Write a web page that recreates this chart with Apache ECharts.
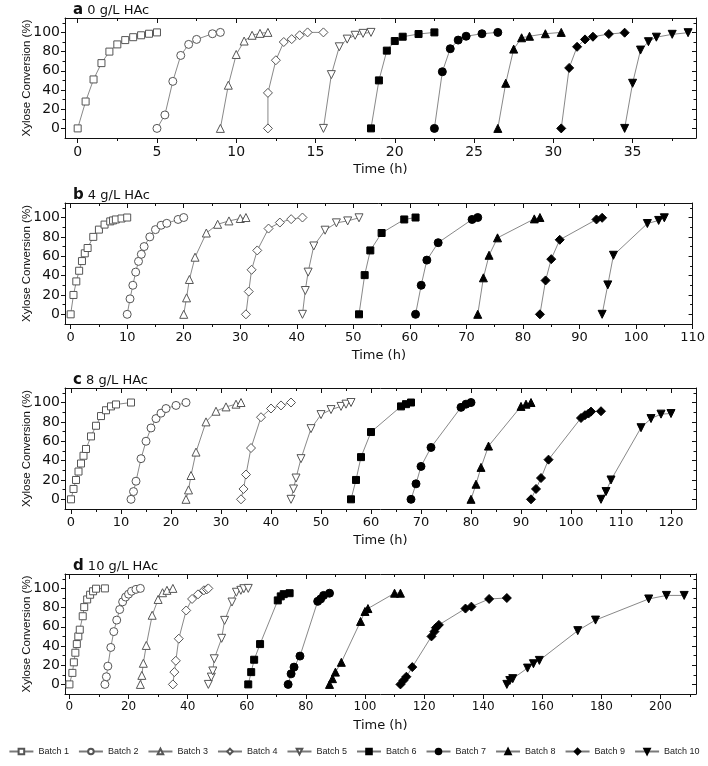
<!DOCTYPE html>
<html><head><meta charset="utf-8">
<script src="https://cdn.jsdelivr.net/npm/echarts@6/dist/echarts.min.js"></script>
<style>html,body{margin:0;padding:0;background:#fff}#c{width:708px;height:766px}</style>
</head><body><div id="c"></div>
<script>
// ---------- DATA ----------
const batchNames = ['Batch 1','Batch 2','Batch 3','Batch 4','Batch 5','Batch 6','Batch 7','Batch 8','Batch 9','Batch 10'];
const panelLetters = ['a','b','c','d'];
const panelLabels = ['0 g/L HAc','4 g/L HAc','8 g/L HAc','10 g/L HAc'];
const yTicks = [0,20,40,60,80,100];
const xTicksA = [0,5,10,15,20,25,30,35];
const xTicksB = [0,10,20,30,40,50,60,70,80,90,100,110];
const xTicksC = [0,10,20,30,40,50,60,70,80,90,100,110,120];
const xTicksD = [0,20,40,60,80,100,120,140,160,180,200];

// Panel a (0 g/L HAc): time (h) and xylose conversion (%) per batch
const timeA = [
  [0,0.5,1,1.5,2,2.5,3,3.5,4,4.5,5],
  [5,5.5,6,6.5,7,7.5,8.5,9],
  [9,9.5,10,10.5,11,11.5,12],
  [12,12,12.5,13,13.5,14,14.5,15.5],
  [15.5,16,16.5,17,17.5,18,18.5],
  [18.5,19,19.5,20,20.5,21.5,22.5],
  [22.5,23,23.5,24,24.5,25.5,26.5],
  [26.5,27,27.5,28,28.5,29.5,30.5],
  [30.5,31,31.5,32,32.5,33.5,34.5],
  [34.5,35,35.5,36,36.5,37.5,38.5]
];
const convA = [
  [0,28,51,68,80,87.5,92,95,97,98.6,100],
  [0,14,49,76,87.5,92.7,98.6,100],
  [0,45,77,91,97,99,100],
  [0,37,71,90,93,97,100,100],
  [0,56,85,93,97,99,100],
  [0,50,81,91,95.5,98.3,100],
  [0,59,83,92,96,98.6,100],
  [0,47,82.6,94.4,96,98.6,100],
  [0,63,85,92.7,95.5,98.3,99.7],
  [0,47,81.6,90.3,95,98,99.7]
];
// Panel b (4 g/L HAc)
const timeB = [
  [0,0.5,1,1.5,2,2.5,3,4,5,6,7,7.5,8,9,10],
  [10,10.5,11,11.5,12,12.5,13,14,15,16,17,19,20],
  [20,20.5,21,22,24,26,28,30,31],
  [31,31.5,32,33,35,37,39,41],
  [41,41.5,42,43,45,47,49,51],
  [51,52,53,55,59,61],
  [61,62,63,65,71,72],
  [72,73,74,75.5,82,83],
  [83,84,85,86.5,93,94],
  [94,95,96,102,104,105]
];
const convB = [
  [0,20,34,45,55,63,68.5,80,87.5,92.7,96,97,98,99,100],
  [0,16,30,43.6,54.7,62,70,80,87.5,92,94,98,100],
  [0,17,36,59,84,93,96.5,99,100],
  [0,23.5,46,66,88.6,94.8,98.3,100],
  [0,24.6,43.6,70.6,86.9,94.5,96.5,99.7],
  [0,40.5,66,84,98,100],
  [0,30,56,74,98,100],
  [0,37.7,61,79,98.6,100],
  [0,35,57,77,98,99.7],
  [0,30.4,61,93.8,97,99.7]
];
// Panel c (8 g/L HAc)
const timeC = [
  [0,0.5,1,1.5,2,2.5,3,4,5,6,7,8,9,12],
  [12,12.5,13,14,15,16,17,18,19,21,23],
  [23,23.5,24,25,27,29,31,33,34],
  [34,34.5,35,36,38,40,42,44],
  [44,44.5,45,46,48,50,52,54,55,56],
  [56,57,58,60,66,67,68],
  [68,69,70,72,78,79,80],
  [80,81,82,83.5,90,91,92],
  [92,93,94,95.5,102,102.8,103.5,104,106],
  [106,107,108,114,116,118,120]
];
const convC = [
  [0,10.7,20,28.7,37,45,52,65,76,86,92,96,98,100],
  [0,8,18.7,42,60,73.7,83.4,89,93.8,97,100],
  [0,9.7,24.6,48.8,80,91,95.5,98.3,100],
  [0,10.7,25.6,53,84.8,93.8,97,100],
  [0,10.7,22,42,73,87.5,92.7,96,98.3,100],
  [0,20,43.6,69.5,96,98.3,100],
  [0,16,34,53.6,95,98.3,100],
  [0,15.6,33,55,96,98.3,100],
  [0,10.7,22,41,84,86.9,88.6,90.6,91],
  [0,8,20,74,83.4,88,88.6]
];
// Panel d (10 g/L HAc)
const timeD = [
  [0,1,1.5,2,2.5,3,3.5,4.5,5,6,7,8,9,12],
  [12,12.5,13,14,15,16,17,18,19,20,21,22.5,24],
  [24,24.5,25,26,28,30,31.5,33,35],
  [35,35.5,36,37,39.5,41.5,43.5,45.5,46.5,47],
  [47,48,48.5,49,51.5,52.5,55,56.5,58,59,60.5],
  [60.5,61.5,62.5,64.5,70.5,71.5,72.5,74.5],
  [74,75,76,78,84,85,86,88],
  [88,89,90,92,98.5,100,101,110,112],
  [112,113,114,116,122.5,123.5,124,125,134,136,142,148],
  [148,149,150,155,157,159,172,178,196,202,208]
];
const convD = [
  [0,12,23,33,42,50,57,71,80.5,88.5,93.4,97,99.7,100],
  [0,8,19,38.5,55,67,78,86,91,94,97,99,100],
  [0,9.4,22,40.6,72,88.5,95.5,98,100],
  [0,12.8,24.6,47.6,77,89,93.8,98,99,100],
  [0,7.6,14,26.7,48,66.7,85.8,96,98,99.7,100],
  [0,12.8,25.7,42,87.5,91.7,94,95],
  [0,11,18,29.5,86.5,89,92.7,95],
  [0,6,12.8,23,65.6,76,79,95,95],
  [0,4,8,18,50,55,59,62,79,81,89,90],
  [0,4,6,17,21.5,25,56,67,89,92.7,92.7]
];

// ---------- LAYOUT ----------
const panels = [
  {top:18,  height:120, xMin:-0.8, xMax:39,  ticks:xTicksA, time:timeA, conv:convA, fs:14},
  {top:203, height:121, xMin:-1,   xMax:110, ticks:xTicksB, time:timeB, conv:convB, fs:13},
  {top:388, height:121, xMin:-1.2, xMax:125, ticks:xTicksC, time:timeC, conv:convC, fs:13},
  {top:574, height:120, xMin:-1.5, xMax:212, ticks:xTicksD, time:timeD, conv:convD, fs:12}
];
const yMin = -10, yMax = 115;
const FONT = 'DejaVu Sans';
const downTri = 'path://M0,0L10,0L5,9Z';
const symbols = ['rect','circle','triangle','diamond',downTri,'rect','circle','triangle','diamond',downTri];
const symSizes = [7,8,8,9,8,7,8,8,9,8];

function mids(arr, max){
  const out=[]; const step = arr[1]-arr[0];
  for (let i=0;i<arr.length;i++){ const m = arr[i]+step/2; if (m<max) out.push(m); }
  return out;
}

const grids=[], xAxes=[], yAxes=[], series=[], titles=[];
panels.forEach((p,pi)=>{
  grids.push({left:65, right:12, top:p.top, height:p.height});
  const xMinor = mids(p.ticks, p.xMax);
  const yMinor = mids(yTicks, yMax);
  const base = {type:'value', gridIndex:pi, splitLine:{show:false}, minorTick:{show:false}, animation:false};
  const line = {show:true, onZero:false, lineStyle:{color:'#111', width:1}};
  const noLine = {show:false, onZero:false};
  // x axes
  xAxes.push(Object.assign({}, base, {min:p.xMin, max:p.xMax, position:'bottom',
    axisLine:line,
    axisTick:{show:true, inside:false, length:5, customValues:p.ticks, lineStyle:{color:'#111'}},
    axisLabel:{show:true, customValues:p.ticks, fontFamily:FONT, fontSize:p.fs, color:'#111', margin:7},
    name:'Time (h)', nameLocation:'middle', nameGap:25, nameMoveOverlap:false,
    nameTextStyle:{fontFamily:FONT, fontSize:13, color:'#111'}}));
  xAxes.push(Object.assign({}, base, {min:p.xMin, max:p.xMax, position:'bottom',
    axisLine:noLine,
    axisTick:{show:true, inside:false, length:3, customValues:xMinor, lineStyle:{color:'#111'}},
    axisLabel:{show:false}}));
  xAxes.push(Object.assign({}, base, {min:p.xMin, max:p.xMax, position:'top',
    axisLine:line,
    axisTick:{show:true, inside:true, length:5, customValues:p.ticks, lineStyle:{color:'#111'}},
    axisLabel:{show:false}}));
  xAxes.push(Object.assign({}, base, {min:p.xMin, max:p.xMax, position:'top',
    axisLine:noLine,
    axisTick:{show:true, inside:true, length:3, customValues:xMinor, lineStyle:{color:'#111'}},
    axisLabel:{show:false}}));
  // y axes
  yAxes.push(Object.assign({}, base, {min:yMin, max:yMax, position:'left',
    axisLine:line,
    axisTick:{show:true, inside:false, length:4, customValues:yTicks, lineStyle:{color:'#111'}},
    axisLabel:{show:true, customValues:yTicks, fontFamily:FONT, fontSize:14, color:'#111', margin:5},
    name:'Xylose Conversion (%)', nameLocation:'middle', nameRotate:90, nameGap:32, nameMoveOverlap:false,
    nameTextStyle:{fontFamily:'Liberation Sans', fontSize:11.5, color:'#111'}}));
  yAxes.push(Object.assign({}, base, {min:yMin, max:yMax, position:'left',
    axisLine:noLine,
    axisTick:{show:true, inside:false, length:2.5, customValues:yMinor, lineStyle:{color:'#111'}},
    axisLabel:{show:false}}));
  yAxes.push(Object.assign({}, base, {min:yMin, max:yMax, position:'right',
    axisLine:line,
    axisTick:{show:true, inside:true, length:4, customValues:yTicks, lineStyle:{color:'#111'}},
    axisLabel:{show:false}}));
  yAxes.push(Object.assign({}, base, {min:yMin, max:yMax, position:'right',
    axisLine:noLine,
    axisTick:{show:true, inside:true, length:2.5, customValues:yMinor, lineStyle:{color:'#111'}},
    axisLabel:{show:false}}));

  titles.push({
    text:'{b|'+panelLetters[pi]+'} '+panelLabels[pi],
    left:68, top:p.top-20,
    textStyle:{fontFamily:FONT, fontSize:13, fontWeight:'normal', color:'#111',
      rich:{b:{fontFamily:FONT, fontSize:15, fontWeight:'bold', color:'#111'}}}
  });

  for (let b=0;b<10;b++){
    const open = b<5;
    series.push({
      type:'line', name:batchNames[b], xAxisIndex:pi*4, yAxisIndex:pi*4,
      data:p.time[b].map((t,k)=>[t,p.conv[b][k]]),
      symbol:symbols[b], symbolSize:symSizes[b], showAllSymbol:true,
      itemStyle:{color:open?'#ffffff':'#000000', borderColor:open?'#555555':'#000000', borderWidth:1},
      lineStyle:{color:'#7a7a7a', width:0.9},
      emphasis:{disabled:true}, animation:false, z:3
    });
  }
});

const chart = echarts.init(document.getElementById('c'), null, {renderer:'canvas'});
chart.setOption({
  backgroundColor:'#ffffff',
  animation:false,
  title:titles,
  grid:grids,
  xAxis:xAxes,
  yAxis:yAxes,
  legend:{data:batchNames, left:'center', top:745, width:706, itemWidth:24, itemHeight:7, itemGap:9,
    padding:[2,0,2,0],
    textStyle:{fontFamily:'Liberation Sans', fontSize:9, color:'#222'}},
  series:series
});
</script></body></html>
